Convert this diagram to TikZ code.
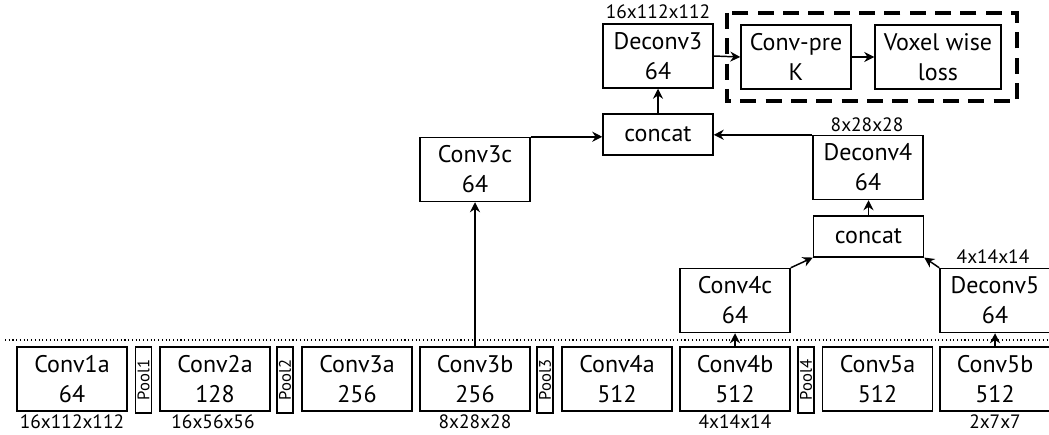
\documentclass[tikz,border=0pt]{standalone}
\usepackage{fontspec}
\setmainfont{PT Sans}
\usetikzlibrary{arrows.meta}
\begin{document}
\begin{tikzpicture}[x=0.75pt, y=-0.75pt, >={Stealth[length=7.5pt,width=7.5pt]},
  layer/.style={draw, line width=1.1pt, inner sep=0pt, minimum width=82.5pt, minimum height=48pt, align=center, font=\fontsize{18}{22.5}\selectfont},
  pool/.style={draw, line width=1.1pt, inner sep=0pt, minimum width=12pt, minimum height=49.5pt, font=\fontsize{12.5}{12.5}\selectfont},
  cat/.style={layer, minimum height=30.5pt},
  dims/.style={font=\fontsize{14.5}{14.5}\selectfont, inner sep=0pt},
  link/.style={->, line width=1.1pt}]
\useasboundingbox (0,0) rectangle (1049,435);
\draw[dotted, line width=0.8pt] (5,340)--(1049,340);
% encoder
\node[layer] (c1a) at (72,379) {Conv1a\\64};
\node[pool] (p1) at (143.5,380) {\rotatebox{90}{Pool1}};
\node[layer] (c2a) at (215,379) {Conv2a\\128};
\node[pool] (p2) at (285,380) {\rotatebox{90}{Pool2}};
\node[layer] (c3a) at (357,379) {Conv3a\\256};
\node[layer] (c3b) at (475,379) {Conv3b\\256};
\node[pool] (p3) at (545,380) {\rotatebox{90}{Pool3}};
\node[layer] (c4a) at (617,379) {Conv4a\\512};
\node[layer] (c4b) at (735,379) {Conv4b\\512};
\node[pool] (p4) at (806,380) {\rotatebox{90}{Pool4}};
\node[layer] (c5a) at (877.5,379) {Conv5a\\512};
\node[layer] (c5b) at (995,379) {Conv5b\\512};
\node[dims] (d1) at (72,422) {16x112x112};
\node[dims] (d2) at (213,422) {16x56x56};
\node[dims] (d3) at (475,422) {8x28x28};
\node[dims] (d4) at (735,422) {4x14x14};
\node[dims] (d5) at (995,422) {2x7x7};
% decoder
\node[layer] (c3c) at (475,169.5) {Conv3c\\64};
\node[cat] (cat3) at (658,134.5) {concat};
\node[layer] (dc3) at (658,56) {Deconv3\\64};
\node[layer] (pre) at (796,57) {Conv-pre\\K};
\node[layer, minimum width=94.5pt] (loss) at (938,57) {Voxel wise\\loss};
\node[layer] (dc4) at (868,167.5) {Deconv4\\64};
\node[cat] (cat4) at (868.5,236.5) {concat};
\node[layer] (c4c) at (735,300.5) {Conv4c\\64};
\node[layer] (dc5) at (995,300.5) {Deconv5\\64};
\node[dims] (d6) at (658,12) {16x112x112};
\node[dims] (d7) at (867,125) {8x28x28};
\node[dims] (d8) at (993,257) {4x14x14};
\draw[line width=3pt, dash pattern=on 12pt off 7pt] (727,13) rectangle (1017,101);
\draw[link] (c3b.north)--(c3c.south);
\draw[link] (c3c.north east)--(c3c.north east -| cat3.west);
\draw[link] (cat3.north)--(dc3.south);
\draw[link] (dc3.east)--(pre.west);
\draw[link] (pre.east)--(loss.west);
\draw[link] (dc4.north west)--(dc4.north west -| cat3.east);
\draw[link] (cat4.north)--(cat4.north |- dc4.south);
\draw[link] (c4c.north east)--(cat4.south west);
\draw[link] (dc5.north west)--(cat4.south east);
\draw[link] (c4b.north)--(c4c.south);
\draw[link] (c5b.north)--(dc5.south);
\end{tikzpicture}
\end{document}
